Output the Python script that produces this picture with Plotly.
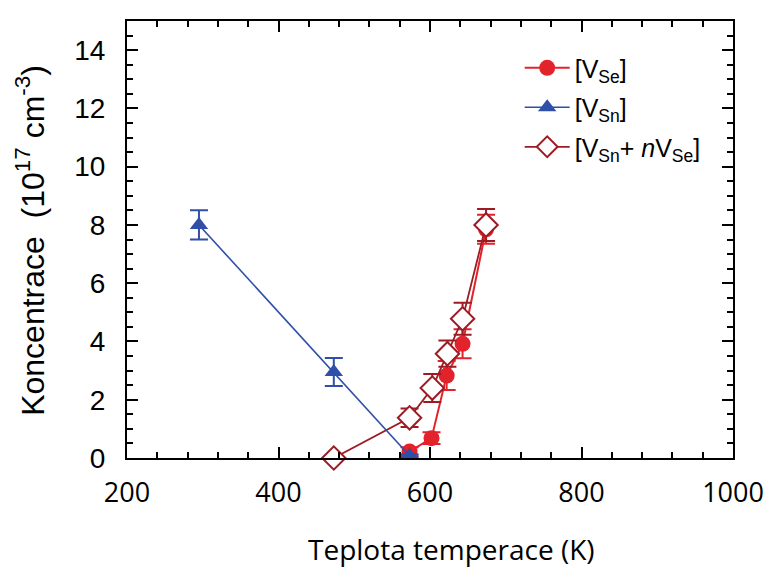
import plotly.graph_objects as go

# V_Se (red circles)
se_x = [573, 602, 622, 643, 674]
se_y = [0.22, 0.68, 2.83, 3.92, 7.85]
se_err = [0.15, 0.2, 0.5, 0.5, 0.5]

# V_Sn (blue triangles)
sn_x = [295, 473, 573]
sn_y = [8.0, 2.95, 0.08]
sn_err = [0.5, 0.48, 0.05]

# V_Sn + nV_Se (open diamonds)
sum_x = [473, 573, 603, 623, 643, 674]
sum_y = [0.0, 1.38, 2.4, 3.58, 4.78, 8.0]
sum_err = [0.0, 0.32, 0.48, 0.45, 0.55, 0.55]

RED = "#e3232b"
BLUE = "#2f4fa8"
DRED = "#9e1b24"

fig = go.Figure()

fig.add_trace(go.Scatter(
    x=se_x, y=se_y, mode="lines+markers", name="[V<sub>Se</sub>]",
    line=dict(color=RED, width=2),
    marker=dict(symbol="circle", size=16, color=RED),
    error_y=dict(type="data", array=se_err, color=RED, thickness=2, width=9),
    cliponaxis=False, legendrank=1, legendgroup="a",
))
fig.add_trace(go.Scatter(
    x=sum_x, y=sum_y, mode="lines+markers", name="[V<sub>Sn</sub>+ <i>n</i>V<sub>Se</sub>]",
    line=dict(color=DRED, width=1.8),
    marker=dict(symbol="diamond", size=18, color="white", line=dict(color=DRED, width=2)),
    error_y=dict(type="data", array=sum_err, color=DRED, thickness=2, width=9),
    cliponaxis=False, legendrank=3, legendgroup="c",
))
fig.add_trace(go.Scatter(
    x=sn_x, y=sn_y, mode="lines+markers", name="[V<sub>Sn</sub>]",
    line=dict(color=BLUE, width=1.6),
    marker=dict(symbol="triangle-up", size=16, color=BLUE),
    error_y=dict(type="data", array=sn_err, color=BLUE, thickness=2, width=9),
    cliponaxis=False, legendrank=2, legendgroup="b",
))

axis_common = dict(
    showline=True, linecolor="black", linewidth=2, mirror="allticks",
    ticks="inside", ticklen=11, tickwidth=2, tickcolor="black",
    showgrid=False, zeroline=False,
)

fig.update_xaxes(
    range=[200, 1000], tickvals=[200, 400, 600, 800, 1000],
    minor=dict(ticks="inside", ticklen=6, tickwidth=1.5, tickcolor="black", dtick=40, tick0=200),
    tickfont=dict(family="Open Sans", size=27, color="black"),
    ticklabelstandoff=10,
    **axis_common,
)
fig.update_yaxes(
    range=[0, 15], tickvals=[0, 2, 4, 6, 8, 10, 12, 14],
    minor=dict(ticks="inside", ticklen=6, tickwidth=1.5, tickcolor="black", dtick=0.5, tick0=0),
    tickfont=dict(family="Liberation Sans, Arial", size=28, color="black"),
    ticklabelstandoff=14,
    **axis_common,
)

fig.add_annotation(
    text="Koncentrace  (10<sup>17</sup> cm<sup>-3</sup>)", xref="paper", yref="paper",
    x=-0.16, y=0.497, xanchor="center", yanchor="middle", showarrow=False,
    textangle=-90,
    font=dict(family="Liberation Sans, Arial", size=32, color="black"),
)

fig.add_annotation(
    text="Teplota temperace (K)", xref="paper", yref="paper",
    x=0.535, y=-0.208, xanchor="center", yanchor="middle", showarrow=False,
    font=dict(family="Open Sans", size=28, color="black"),
)

fig.update_layout(
    width=776, height=569,
    margin=dict(l=127, r=36, t=21, b=111),
    paper_bgcolor="white", plot_bgcolor="white",
    showlegend=True,
    legend=dict(x=0.648, y=0.945, xanchor="left", yanchor="top",
                font=dict(family="Liberation Sans, Arial", size=25, color="black"),
                bgcolor="rgba(0,0,0,0)", tracegroupgap=4, itemwidth=45),
)

fig.write_html("out.html")
